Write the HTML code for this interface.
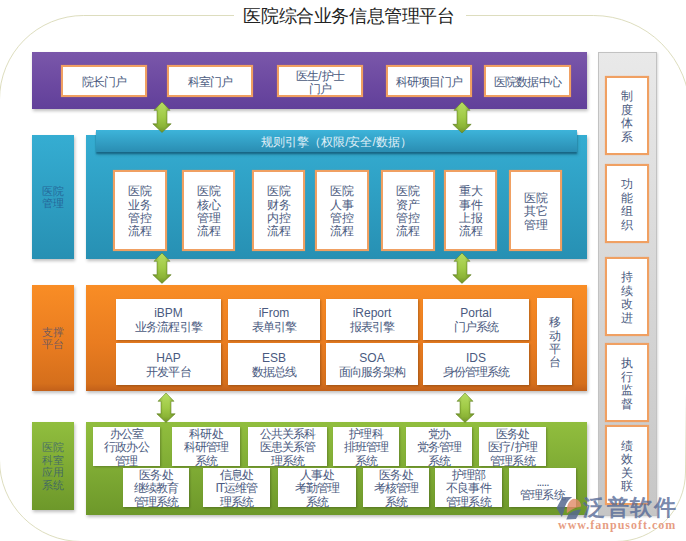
<!DOCTYPE html>
<html><head><meta charset="utf-8"><style>
html,body{margin:0;padding:0}
body{width:686px;height:541px;position:relative;overflow:hidden;background:#fff;font-family:"Liberation Sans",sans-serif;color:#4a5a80}
.abs{position:absolute}
.title{position:absolute;left:236px;top:4px;width:224px;height:24px;line-height:24px;text-align:center;font-size:18px;letter-spacing:-0.4px;color:#222;white-space:nowrap;padding-left:1px}
.band{position:absolute;box-shadow:1px 2px 3px rgba(0,0,0,0.25)}
.purple{background:linear-gradient(#7a57aa,#6b48a0 60%,#61409a)}
.cyan{background:linear-gradient(#35add2,#2790b3)}
.orange{background:linear-gradient(#f98d25,#e97c20 55%,#d56f1c 93%,#c2601a)}
.green{background:linear-gradient(#91be3e,#6d982a)}
.gray{position:absolute;box-sizing:border-box;border:1px solid #c2c2c2;background:linear-gradient(#e9e9e9,#d7d7d7 50%,#c6c6c6);box-shadow:1px 1px 2px rgba(0,0,0,0.15)}
.rule{position:absolute;background:linear-gradient(#3db4da,#2a8db2);box-shadow:0 2px 1.5px rgba(10,70,100,0.55),1px 3px 3px rgba(0,0,0,0.15);display:flex;align-items:center;justify-content:center;color:#e0f0f8;font-size:12px}
.rule span{position:relative;top:1px}
.lbl{position:absolute;display:flex;align-items:center;justify-content:center;text-align:center;font-size:11px;line-height:12.8px;color:rgba(30,68,128,0.62)}
.ob,.wb{position:absolute;box-sizing:border-box;background:#fff;display:flex;align-items:center;justify-content:center;text-align:center;font-size:12px;line-height:13px;white-space:nowrap;font-weight:300}
.ob span,.wb span{position:relative;top:1.5px}
.lbl span{position:relative;top:0.3px}
.ob{border:2px solid #f0a062;box-shadow:0 0 0.8px rgba(238,150,80,0.9)}
.wb{box-shadow:1px 1px 2px rgba(0,0,0,0.25)}
.tight{line-height:13.3px}
.o2{line-height:13.8px}
.o2 i{font-style:normal;letter-spacing:-0.9px}
.pp span{letter-spacing:-0.9px}
.pp b{font-weight:300;line-height:12.2px;display:block}
.pp u,.g u{text-decoration:none;letter-spacing:0;padding:0 0.5px}
.g span{letter-spacing:-0.9px}
.g{line-height:13.4px}
.vt{line-height:13.3px}
.vt2{line-height:13.5px}
.wm1{position:absolute;left:583px;top:494px;font-size:22px;line-height:28px;font-weight:bold;color:rgba(85,105,150,0.8);white-space:nowrap;letter-spacing:1.5px}
.wm2{position:absolute;left:558px;top:518.5px;font-family:"Liberation Serif",serif;font-size:12px;line-height:12px;font-weight:bold;letter-spacing:1px;color:rgba(226,140,108,0.85);white-space:nowrap}
</style></head><body>
<svg class="abs" width="686" height="541" style="left:0;top:0">
<path d="M234 15.5 H83.5 A84 84 0 0 0 -0.5 99.5 V460 A81.5 81.5 0 0 0 81 541.5 H616 A69.5 69.5 0 0 0 685.5 472 L690 112 A96.5 96.5 0 0 0 593.5 15.5 H466" fill="none" stroke="#d4d4ad" stroke-width="0.8"/>
</svg>
<div class="title">医院综合业务信息管理平台</div>
<div class="band purple" style="left:32px;top:52px;width:555px;height:57px"></div>
<div class="ob pp" style="left:61px;top:65px;width:86px;height:32px;"><span>院长门户</span></div>
<div class="ob pp" style="left:167px;top:65px;width:86px;height:32px;"><span>科室门户</span></div>
<div class="ob pp" style="left:277px;top:65px;width:86px;height:32px;"><span><b>医生<u>/</u>护士<br>门户</b></span></div>
<div class="ob pp" style="left:386px;top:65px;width:86px;height:32px;"><span>科研项目门户</span></div>
<div class="ob pp" style="left:484px;top:65px;width:87px;height:32px;"><span>医院数据中心</span></div>
<div class="band cyan" style="left:32px;top:135px;width:42px;height:124px"></div>
<div class="lbl" style="left:32px;top:135px;width:42px;height:124px"><span>医院<br>管理</span></div>
<div class="band cyan" style="left:86px;top:135px;width:501px;height:124px"></div>
<div class="rule" style="left:96px;top:130px;width:481px;height:22px"><span>规则引擎（权限/安全/数据）</span></div>
<div class="ob tight" style="left:113px;top:170px;width:54px;height:81px;"><span>医院<br>业务<br>管控<br>流程</span></div>
<div class="ob tight" style="left:182px;top:170px;width:53px;height:81px;"><span>医院<br>核心<br>管理<br>流程</span></div>
<div class="ob tight" style="left:252px;top:170px;width:53px;height:81px;"><span>医院<br>财务<br>内控<br>流程</span></div>
<div class="ob tight" style="left:315px;top:170px;width:54px;height:81px;"><span>医院<br>人事<br>管控<br>流程</span></div>
<div class="ob tight" style="left:381px;top:170px;width:54px;height:81px;"><span>医院<br>资产<br>管控<br>流程</span></div>
<div class="ob tight" style="left:444px;top:170px;width:53px;height:81px;"><span>重大<br>事件<br>上报<br>流程</span></div>
<div class="ob tight" style="left:509px;top:170px;width:53px;height:81px;"><span>医院<br>其它<br>管理</span></div>
<div class="band orange" style="left:32px;top:285px;width:42px;height:106px"></div>
<div class="lbl" style="left:32px;top:285px;width:42px;height:106px"><span>支撑<br>平台</span></div>
<div class="band orange" style="left:86px;top:285px;width:501px;height:106px"></div>
<div class="wb o2" style="left:116px;top:299px;width:105px;height:41px;"><span>iBPM<br><i>业务流程引擎</i></span></div>
<div class="wb o2" style="left:228px;top:299px;width:92px;height:41px;"><span>iFrom<br><i>表单引擎</i></span></div>
<div class="wb o2" style="left:326px;top:299px;width:92px;height:41px;"><span>iReport<br><i>报表引擎</i></span></div>
<div class="wb o2" style="left:423px;top:299px;width:106px;height:41px;"><span>Portal<br><i>门户系统</i></span></div>
<div class="wb o2" style="left:116px;top:343px;width:105px;height:42px;"><span>HAP<br><i>开发平台</i></span></div>
<div class="wb o2" style="left:228px;top:343px;width:92px;height:42px;"><span>ESB<br><i>数据总线</i></span></div>
<div class="wb o2" style="left:326px;top:343px;width:92px;height:42px;"><span>SOA<br><i>面向服务架构</i></span></div>
<div class="wb o2" style="left:423px;top:343px;width:106px;height:42px;"><span>IDS<br><i>身份管理系统</i></span></div>
<div class="wb vt" style="left:537px;top:298px;width:35px;height:87px;"><span>移<br>动<br>平<br>台</span></div>
<div class="band green" style="left:32px;top:422px;width:42px;height:88px"></div>
<div class="lbl" style="left:32px;top:422px;width:42px;height:88px"><span>医院<br>科室<br>应用<br>系统</span></div>
<div class="band green" style="left:86px;top:422px;width:501px;height:93px"></div>
<div class="wb g" style="left:93px;top:427px;width:67px;height:39px;"><span>办公室<br>行政办公<br>管理</span></div>
<div class="wb g" style="left:172px;top:427px;width:68px;height:39px;"><span>科研处<br>科研管理<br>系统</span></div>
<div class="wb g" style="left:248px;top:427px;width:79px;height:39px;"><span>公共关系科<br>医患关系管<br>理系统</span></div>
<div class="wb g" style="left:333px;top:427px;width:66px;height:39px;"><span>护理科<br>排班管理<br>系统</span></div>
<div class="wb g" style="left:406px;top:427px;width:66px;height:39px;"><span>党办<br>党务管理<br>系统</span></div>
<div class="wb g" style="left:479px;top:427px;width:67px;height:39px;"><span>医务处<br>医疗<u>/</u>护理<br>管理系统</span></div>
<div class="wb g" style="left:123px;top:468px;width:66px;height:39px;"><span>医务处<br>继续教育<br>管理系统</span></div>
<div class="wb g" style="left:203px;top:468px;width:67px;height:39px;"><span>信息处<br>IT运维管<br>理系统</span></div>
<div class="wb g" style="left:278px;top:468px;width:78px;height:39px;"><span>人事处<br>考勤管理<br>系统</span></div>
<div class="wb g" style="left:363px;top:468px;width:66px;height:39px;"><span>医务处<br>考核管理<br>系统</span></div>
<div class="wb g" style="left:435px;top:468px;width:67px;height:39px;"><span>护理部<br>不良事件<br>管理系统</span></div>
<div class="wb g" style="left:509px;top:468px;width:67px;height:39px;"><span>.....<br>管理系统</span></div>
<div class="gray" style="left:598px;top:52px;width:59px;height:464px"></div>
<div class="ob vt2" style="left:605px;top:76px;width:44px;height:79px;"><span>制<br>度<br>体<br>系</span></div>
<div class="ob vt2" style="left:605px;top:164px;width:44px;height:79px;"><span>功<br>能<br>组<br>织</span></div>
<div class="ob vt2" style="left:605px;top:257px;width:44px;height:79px;"><span>持<br>续<br>改<br>进</span></div>
<div class="ob vt2" style="left:605px;top:343px;width:44px;height:79px;"><span>执<br>行<br>监<br>督</span></div>
<div class="ob vt2" style="left:605px;top:425px;width:44px;height:80px;"><span>绩<br>效<br>关<br>联</span></div>
<svg class="abs" style="left:151px;top:101px;overflow:visible" width="22" height="33.5" viewBox="151 101 22 33.5">
<defs><linearGradient id="av162_102" x1="0" x2="0" y1="0" y2="1"><stop offset="0" stop-color="#b6dc62"/><stop offset="0.5" stop-color="#a0ca46"/><stop offset="0.8" stop-color="#8cb437"/><stop offset="1" stop-color="#6e9226"/></linearGradient>
<linearGradient id="ah162_102" x1="0" x2="1" y1="0" y2="0"><stop offset="0" stop-color="#4d6b14" stop-opacity="0.45"/><stop offset="0.35" stop-color="#4d6b14" stop-opacity="0"/><stop offset="0.65" stop-color="#4d6b14" stop-opacity="0"/><stop offset="1" stop-color="#4d6b14" stop-opacity="0.45"/></linearGradient></defs>
<path d="M162 102 L170 110.3 H167 V123.8 H171.2 L162 132.5 L152.8 123.8 H157 V110.3 H154 Z" fill="url(#av162_102)" stroke="#5c7c1c" stroke-width="0.7" stroke-opacity="0.75"/>
<path d="M162 102 L170 110.3 H167 V123.8 H171.2 L162 132.5 L152.8 123.8 H157 V110.3 H154 Z" fill="url(#ah162_102)"/>
</svg>
<svg class="abs" style="left:450.5px;top:100.5px;overflow:visible" width="22" height="34.0" viewBox="450.5 100.5 22 34.0">
<defs><linearGradient id="av461_101" x1="0" x2="0" y1="0" y2="1"><stop offset="0" stop-color="#b6dc62"/><stop offset="0.5" stop-color="#a0ca46"/><stop offset="0.8" stop-color="#8cb437"/><stop offset="1" stop-color="#6e9226"/></linearGradient>
<linearGradient id="ah461_101" x1="0" x2="1" y1="0" y2="0"><stop offset="0" stop-color="#4d6b14" stop-opacity="0.45"/><stop offset="0.35" stop-color="#4d6b14" stop-opacity="0"/><stop offset="0.65" stop-color="#4d6b14" stop-opacity="0"/><stop offset="1" stop-color="#4d6b14" stop-opacity="0.45"/></linearGradient></defs>
<path d="M461.5 101.5 L469.5 109.8 H466.5 V123.8 H470.7 L461.5 132.5 L452.3 123.8 H456.5 V109.8 H453.5 Z" fill="url(#av461_101)" stroke="#5c7c1c" stroke-width="0.7" stroke-opacity="0.75"/>
<path d="M461.5 101.5 L469.5 109.8 H466.5 V123.8 H470.7 L461.5 132.5 L452.3 123.8 H456.5 V109.8 H453.5 Z" fill="url(#ah461_101)"/>
</svg>
<svg class="abs" style="left:151px;top:252.3px;overflow:visible" width="22" height="33.39999999999998" viewBox="151 252.3 22 33.39999999999998">
<defs><linearGradient id="av162_253" x1="0" x2="0" y1="0" y2="1"><stop offset="0" stop-color="#b6dc62"/><stop offset="0.5" stop-color="#a0ca46"/><stop offset="0.8" stop-color="#8cb437"/><stop offset="1" stop-color="#6e9226"/></linearGradient>
<linearGradient id="ah162_253" x1="0" x2="1" y1="0" y2="0"><stop offset="0" stop-color="#4d6b14" stop-opacity="0.45"/><stop offset="0.35" stop-color="#4d6b14" stop-opacity="0"/><stop offset="0.65" stop-color="#4d6b14" stop-opacity="0"/><stop offset="1" stop-color="#4d6b14" stop-opacity="0.45"/></linearGradient></defs>
<path d="M162 253.3 L170 261.6 H167 V275.0 H171.2 L162 283.7 L152.8 275.0 H157 V261.6 H154 Z" fill="url(#av162_253)" stroke="#5c7c1c" stroke-width="0.7" stroke-opacity="0.75"/>
<path d="M162 253.3 L170 261.6 H167 V275.0 H171.2 L162 283.7 L152.8 275.0 H157 V261.6 H154 Z" fill="url(#ah162_253)"/>
</svg>
<svg class="abs" style="left:450.7px;top:252.3px;overflow:visible" width="22" height="33.39999999999998" viewBox="450.7 252.3 22 33.39999999999998">
<defs><linearGradient id="av461_253" x1="0" x2="0" y1="0" y2="1"><stop offset="0" stop-color="#b6dc62"/><stop offset="0.5" stop-color="#a0ca46"/><stop offset="0.8" stop-color="#8cb437"/><stop offset="1" stop-color="#6e9226"/></linearGradient>
<linearGradient id="ah461_253" x1="0" x2="1" y1="0" y2="0"><stop offset="0" stop-color="#4d6b14" stop-opacity="0.45"/><stop offset="0.35" stop-color="#4d6b14" stop-opacity="0"/><stop offset="0.65" stop-color="#4d6b14" stop-opacity="0"/><stop offset="1" stop-color="#4d6b14" stop-opacity="0.45"/></linearGradient></defs>
<path d="M461.7 253.3 L469.7 261.6 H466.7 V275.0 H470.9 L461.7 283.7 L452.5 275.0 H456.7 V261.6 H453.7 Z" fill="url(#av461_253)" stroke="#5c7c1c" stroke-width="0.7" stroke-opacity="0.75"/>
<path d="M461.7 253.3 L469.7 261.6 H466.7 V275.0 H470.9 L461.7 283.7 L452.5 275.0 H456.7 V261.6 H453.7 Z" fill="url(#ah461_253)"/>
</svg>
<svg class="abs" style="left:154.7px;top:391.5px;overflow:visible" width="22" height="32.5" viewBox="154.7 391.5 22 32.5">
<defs><linearGradient id="av165_392" x1="0" x2="0" y1="0" y2="1"><stop offset="0" stop-color="#b6dc62"/><stop offset="0.5" stop-color="#a0ca46"/><stop offset="0.8" stop-color="#8cb437"/><stop offset="1" stop-color="#6e9226"/></linearGradient>
<linearGradient id="ah165_392" x1="0" x2="1" y1="0" y2="0"><stop offset="0" stop-color="#4d6b14" stop-opacity="0.45"/><stop offset="0.35" stop-color="#4d6b14" stop-opacity="0"/><stop offset="0.65" stop-color="#4d6b14" stop-opacity="0"/><stop offset="1" stop-color="#4d6b14" stop-opacity="0.45"/></linearGradient></defs>
<path d="M165.7 392.5 L173.7 400.8 H170.7 V413.3 H174.89999999999998 L165.7 422 L156.5 413.3 H160.7 V400.8 H157.7 Z" fill="url(#av165_392)" stroke="#5c7c1c" stroke-width="0.7" stroke-opacity="0.75"/>
<path d="M165.7 392.5 L173.7 400.8 H170.7 V413.3 H174.89999999999998 L165.7 422 L156.5 413.3 H160.7 V400.8 H157.7 Z" fill="url(#ah165_392)"/>
</svg>
<svg class="abs" style="left:454px;top:391.5px;overflow:visible" width="22" height="32.5" viewBox="454 391.5 22 32.5">
<defs><linearGradient id="av465_392" x1="0" x2="0" y1="0" y2="1"><stop offset="0" stop-color="#b6dc62"/><stop offset="0.5" stop-color="#a0ca46"/><stop offset="0.8" stop-color="#8cb437"/><stop offset="1" stop-color="#6e9226"/></linearGradient>
<linearGradient id="ah465_392" x1="0" x2="1" y1="0" y2="0"><stop offset="0" stop-color="#4d6b14" stop-opacity="0.45"/><stop offset="0.35" stop-color="#4d6b14" stop-opacity="0"/><stop offset="0.65" stop-color="#4d6b14" stop-opacity="0"/><stop offset="1" stop-color="#4d6b14" stop-opacity="0.45"/></linearGradient></defs>
<path d="M465 392.5 L473 400.8 H470 V413.3 H474.2 L465 422 L455.8 413.3 H460 V400.8 H457 Z" fill="url(#av465_392)" stroke="#5c7c1c" stroke-width="0.7" stroke-opacity="0.75"/>
<path d="M465 392.5 L473 400.8 H470 V413.3 H474.2 L465 422 L455.8 413.3 H460 V400.8 H457 Z" fill="url(#ah465_392)"/>
</svg>
<svg class="abs" style="left:550px;top:490px" width="40" height="34" viewBox="550 490 40 34">
<path d="M562.4 497 L572.2 497 Q565.2 502 563.9 511.5 L561.8 517.1 L556.5 508 Z" fill="#56688f" fill-opacity="0.85"/>
<path d="M566.9 513.3 C566 505 570 499 574 498.8 C578 498.8 581 502 581.1 506.5 Q573 507.5 566.9 513.3 Z" fill="#e08c6a" fill-opacity="0.82"/>
<path d="M568.3 514.5 Q572 510.3 581.1 509.2 L576 518.9 L566.3 519.5 Z" fill="#56688f" fill-opacity="0.85"/>
</svg>
<div class="wm1">泛普软件</div>
<div class="wm2">www.fanpusoft.com</div>

</body></html>
